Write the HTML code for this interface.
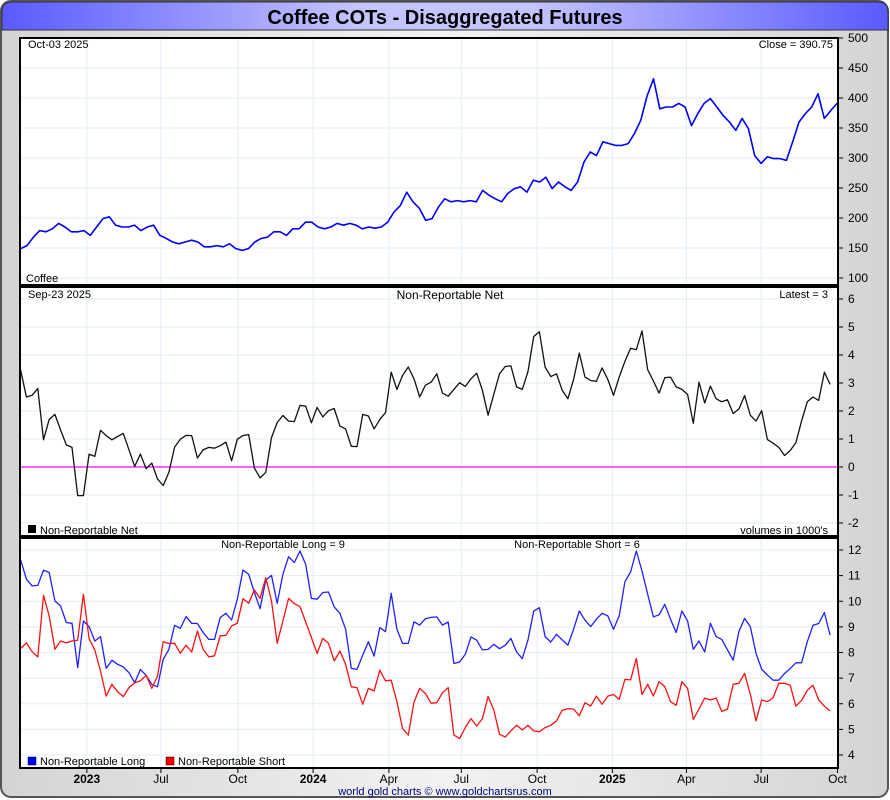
<!DOCTYPE html>
<html><head><meta charset="utf-8">
<style>
body{margin:0;width:890px;height:800px;overflow:hidden;background:#fff;font-family:"Liberation Sans",sans-serif;}
svg{display:block}
</style></head>
<body>
<svg id="chart" width="890" height="800" xmlns="http://www.w3.org/2000/svg">
<defs>
<linearGradient id="bg" x1="0" y1="0" x2="1" y2="0"><stop offset="0" stop-color="#d4d4d4"/><stop offset="0.5" stop-color="#f2f2f2"/><stop offset="1" stop-color="#d4d4d4"/></linearGradient>
<linearGradient id="tb" x1="0" y1="0" x2="1" y2="0"><stop offset="0" stop-color="#5a5aff"/><stop offset="0.4" stop-color="#c4c4ff"/><stop offset="0.6" stop-color="#c4c4ff"/><stop offset="1" stop-color="#5a5aff"/></linearGradient>
</defs>
<rect x="1" y="1" width="887" height="796" rx="10" fill="url(#bg)" stroke="#555" stroke-width="2"/>
<path d="M2 30 L2 12 Q2 2 12 2 L878 2 Q888 2 888 12 L888 30 Z" fill="url(#tb)" stroke="#333" stroke-width="1"/>
<text x="445" y="24" text-anchor="middle" font-size="20" font-weight="bold" fill="#000">Coffee COTs - Disaggregated Futures</text>
<g id="g"></g>
<text x="445" y="795" text-anchor="middle" font-size="11" fill="#000080">world gold charts © www.goldchartsrus.com</text>
</svg>
<script>
const xTickLabels=["2023","Jul","Oct","2024","Apr","Jul","Oct","2025","Apr","Jul","Oct"];
const xTickBold=[true,false,false,true,false,false,false,true,false,false,false];
const xTickWeeks=[11.6,24.6,38.1,51.3,64.6,77.3,90.6,103.8,116.8,129.9,143.3];
const priceTicks=[100,150,200,250,300,350,400,450,500];
const netTicks=[-2,-1,0,1,2,3,4,5,6];
const lsTicks=[4,5,6,7,8,9,10,11,12];
const priceValues=[149,154,168,179,177,182,191,185,177,177,179,171,185,199,202,188,185,185,188,179,185,188,171,166,160,157,160,163,160,152,152,154,152,157,149,146,149,160,166,168,177,177,171,182,182,193,193,185,182,185,191,188,191,188,182,185,183,185,193,210,221,243,227,216,196,199,218,232,
227,229,227,229,227,246,238,232,227,241,249,252,243,263,260,268,249,260,252,246,260,293,310,304,327,324,321,321,324,341,363,404,432,382,385,385,391,385,354,374,391,399,385,371,360,346,366,349,304,291,302,299,299,296,327,360,374,385,407,366,379,391];
const netValues=[3.45,2.50,2.56,2.80,0.97,1.70,1.88,1.32,0.79,0.70,-1.02,-1.02,0.46,0.38,1.31,1.12,0.97,1.09,1.20,0.61,0.02,0.46,-0.06,0.14,-0.43,-0.66,-0.19,0.71,0.99,1.13,1.12,0.32,0.61,0.70,0.67,0.76,0.89,0.22,0.99,1.12,1.16,-0.04,-0.39,-0.19,1.05,1.59,1.84,1.64,1.62,2.20,2.17,1.58,2.13,1.79,2.01,2.09,1.46,1.36,0.74,0.73,1.88,1.82,1.36,1.70,1.94,3.39,2.77,3.27,3.57,3.15,2.50,2.92,3.03,
3.33,2.64,2.53,2.77,3.01,2.88,3.15,3.35,2.74,1.85,2.60,3.33,3.59,3.61,2.86,2.77,3.41,4.66,4.83,3.57,3.23,3.33,2.74,2.44,3.13,4.07,3.21,3.09,3.06,3.54,3.13,2.56,3.21,3.77,4.24,4.19,4.86,3.47,3.07,2.64,3.19,3.21,2.86,2.77,2.59,1.56,3.03,2.29,2.89,2.44,2.33,2.40,1.91,2.07,2.55,1.85,1.64,2.01,0.98,0.85,0.70,0.41,0.59,0.87,1.65,2.33,2.50,2.38,3.39,2.95];
const longValues=[11.61,10.86,10.60,10.62,11.21,11.12,10.01,9.82,9.17,9.14,7.41,9.23,9.01,8.45,8.62,7.38,7.70,7.54,7.44,7.21,6.82,7.34,7.11,6.76,6.66,7.73,8.12,9.06,8.94,9.40,9.14,9.13,8.78,8.51,8.51,9.36,9.53,9.27,10.08,11.22,11.05,10.34,9.71,10.83,11.01,9.92,11.05,11.74,11.51,11.96,11.44,10.11,10.08,10.34,10.36,9.78,9.53,8.91,7.38,7.34,7.89,8.42,7.86,8.97,8.81,10.31,8.91,8.35,8.36,9.20,9.07,9.32,9.37,
9.39,9.07,9.19,7.57,7.63,7.93,8.61,8.48,8.10,8.12,8.32,8.15,8.28,8.55,8.02,7.76,8.49,9.62,9.75,8.62,8.41,8.71,8.49,8.29,8.91,9.62,9.26,9.01,9.30,9.53,9.43,8.91,9.43,10.76,11.14,11.96,11.18,10.27,9.39,9.47,9.88,9.30,8.78,9.62,9.23,8.12,8.45,8.02,9.14,8.62,8.51,8.10,7.70,8.82,9.33,9.01,7.97,7.34,7.12,6.92,6.92,7.18,7.37,7.60,7.60,8.42,9.06,9.13,9.56,8.68];
const shortValues=[8.16,8.38,8.03,7.83,10.23,9.43,8.12,8.45,8.38,8.45,8.48,10.27,8.54,8.10,7.28,6.30,6.76,6.47,6.28,6.63,6.82,6.89,7.11,6.60,7.08,8.42,8.35,8.36,7.97,8.28,8.02,8.84,8.12,7.83,7.87,8.65,8.67,9.04,9.14,10.10,9.92,10.44,10.11,10.92,10.01,8.36,9.23,10.11,9.91,9.79,9.19,8.58,7.96,8.55,8.36,7.67,8.06,7.54,6.66,6.63,5.98,6.60,6.50,7.31,6.89,6.92,6.08,5.03,4.78,6.07,6.60,6.40,6.02,
6.04,6.43,6.63,4.78,4.64,5.07,5.42,5.13,5.42,6.28,5.76,4.81,4.70,4.94,5.16,4.98,5.16,4.94,4.91,5.07,5.16,5.33,5.75,5.81,5.79,5.53,6.04,5.91,6.30,5.98,6.30,6.36,6.17,6.95,6.93,7.77,6.36,6.76,6.30,6.86,6.67,6.08,5.94,6.86,6.60,5.39,5.79,6.22,6.15,6.22,5.70,5.79,6.76,6.80,7.19,6.37,5.33,6.15,6.08,6.24,6.80,6.80,6.72,5.91,6.13,6.53,6.72,6.15,5.90,5.72];

const NS="http://www.w3.org/2000/svg";
const g=document.getElementById('g');
function mk(tag,attrs,parent){const e=document.createElementNS(NS,tag);for(const k in attrs)e.setAttribute(k,attrs[k]);(parent||g).appendChild(e);return e;}
const L=20,R=838,X0=20.7,DX=5.7;
function xWeek(i){return X0+i*DX;}
const panels=[{top:38,bot:285,min:100,max:500,ticks:priceTicks,t0:38,t1:278},
{top:287,bot:536,min:-2,max:6,ticks:netTicks,t0:299,t1:523},
{top:538,bot:768,min:4,max:12,ticks:lsTicks,t0:550,t1:755}];
function yScale(p,v){return p.t1-(v-p.min)/(p.max-p.min)*(p.t1-p.t0);}

panels.forEach((p,pi)=>{
  const bg=mk('rect',{x:L,y:p.top,width:R-L,height:p.bot-p.top,fill:'#fff'});
  
  
  p.ticks.forEach(t=>{
    const y=yScale(p,t);
    const gl=mk('line',{x1:L,x2:R,y1:y,y2:y,stroke:'#e3edf7','stroke-width':1});
    
    
    const tk=mk('line',{x1:R,x2:R+5,y1:y,y2:y,stroke:'#000','stroke-width':1});
    
    
    const tx=mk('text',{x:R+10,y:y+4,'font-size':12,fill:'#000'});
    tx.textContent=t;
    
    
  });
  xTickWeeks.forEach(w=>{
    const x=xWeek(w);
    const vl=mk('line',{x1:x,x2:x,y1:p.top,y2:p.bot,stroke:'#e3edf7','stroke-width':1});
    
    
  });
});
// zero line
const zl=mk('line',{x1:L,x2:R,y1:yScale(panels[1],0),y2:yScale(panels[1],0),stroke:'#ff00ff','stroke-width':1.2});



function series(vals,p,xf,color,name,w){
  const pts=vals.map((v,i)=>xf(i).toFixed(1)+','+yScale(p,v).toFixed(1)).join(' ');
  const pl=mk('polyline',{points:pts,fill:'none',stroke:color,'stroke-width':w||1.3,'stroke-linejoin':'round'});
  
  
}
const PX=(i)=>X0+i*(837-X0)/(priceValues.length-1);
series(priceValues,panels[0],PX,'#0000ff','price-line',1.6);
series(netValues,panels[1],xWeek,'#111','net-line',1.3);
series(longValues,panels[2],xWeek,'#2020ff','long-line',1.3);
series(shortValues,panels[2],xWeek,'#ff1010','short-line',1.3);

panels.forEach((p,pi)=>{
  const b=mk('rect',{x:L,y:p.top,width:R-L,height:p.bot-p.top,fill:'none',stroke:'#000','stroke-width':2});
  
  
});
xTickLabels.forEach((lab,i)=>{
  const x=xWeek(xTickWeeks[i]);
  const tk=mk('line',{x1:x,x2:x,y1:768,y2:773,stroke:'#000'});
  
  
  const t=mk('text',{x:x,y:783,'text-anchor':'middle','font-size':12,'font-weight':xTickBold[i]?'bold':'normal',fill:'#000'});
  t.textContent=lab;
  
  
});
function txt(x,y,s,size,anchor,name,color){
  const t=mk('text',{x:x,y:y,'font-size':size,'text-anchor':anchor||'start',fill:color||'#000'});
  t.textContent=s;
  
  
}
txt(28,48,'Oct-03  2025',11,'start','price-date-label');
txt(833,48,'Close = 390.75',11,'end','close-label');
txt(26,282,'Coffee',11,'start','price-panel-label');
txt(28,298,'Sep-23  2025',11,'start','net-date-label');
txt(450,299,'Non-Reportable Net',12,'middle','net-panel-title');
txt(828,298,'Latest = 3',11,'end','latest-label');
txt(828,534,'volumes in 1000\'s',11,'end','volumes-note');
const lg1=mk('rect',{x:28,y:525,width:8,height:8,fill:'#000'});


txt(40,534,'Non-Reportable Net',11,'start','legend-net');
txt(283,548,'Non-Reportable Long = 9',11,'middle','long-latest-label');
txt(577,548,'Non-Reportable Short = 6',11,'middle','short-latest-label');
const lg2=mk('rect',{x:28,y:757,width:8,height:8,fill:'#0000ff',stroke:'#000','stroke-width':0.5});


txt(40,765,'Non-Reportable Long',11,'start','legend-long');
const lg3=mk('rect',{x:166,y:757,width:8,height:8,fill:'#ff0000',stroke:'#000','stroke-width':0.5});


txt(178,765,'Non-Reportable Short',11,'start','legend-short');
</script>
</body></html>
